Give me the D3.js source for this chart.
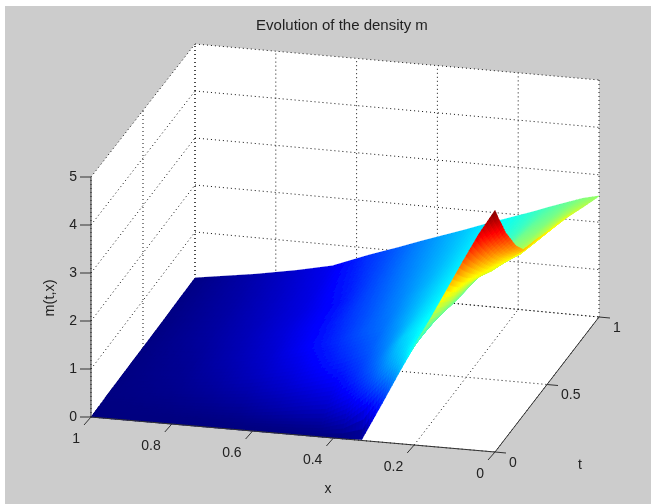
<!DOCTYPE html>
<html><head><meta charset="utf-8">
<script src="https://cdn.jsdelivr.net/npm/d3@7"></script>
<style>html,body{margin:0;padding:0;background:#fff}svg{display:block}text{font-family:"Liberation Sans",Arial,sans-serif;fill:#222}</style>
</head><body><div id="chart"></div>
<script>
const titleText = "Evolution of the density m";
const xLabel = "x", tLabel = "t", zLabel = "m(t,x)";
const xTicks = [1,0.8,0.6,0.4,0.2,0];
const tTicks = [0,0.5,1];
const zTicks = [0,1,2,3,4,5];
const xGrid = [0,.04,.08,.12,.16,.2,.24,.28,.33,.38,.44,.5,.57,.66,.75,.85,1];
const tGrid = [0,.03,.06,.1,.15,.2,.28,.4,.55,.7,.85,1];
const density = [
 [4.93,4.42,3.83,3.22,2.61,2.03,1.42,.79,.02,0,0,0,0,0,0,0,0],
 [4.70,4.25,3.7,3.12,2.55,2.03,1.55,1.05,.55,.22,.08,.05,.03,.01,0,0,0],
 [4.50,4.08,3.58,3.03,2.5,2.03,1.66,1.3,.85,.45,.2,.16,.1,.04,.02,.01,0],
 [4.22,3.88,3.43,2.93,2.45,2.03,1.72,1.45,1.02,.66,.38,.3,.2,.09,.05,.02,0],
 [3.95,3.63,3.25,2.87,2.4,2.03,1.76,1.54,1.15,.84,.52,.4,.28,.16,.09,.04,.01],
 [3.68,3.43,3.08,2.8,2.35,2.03,1.8,1.6,1.22,.93,.66,.52,.37,.22,.13,.06,.01],
 [3.38,3.18,2.9,2.72,2.3,2.02,1.82,1.62,1.3,1.05,.84,.66,.47,.31,.18,.08,.01],
 [3.28,2.95,2.75,2.62,2.25,2.02,1.83,1.65,1.4,1.16,1.0,.8,.6,.38,.24,.11,.01],
 [3.10,2.8,2.62,2.5,2.2,2.01,1.84,1.68,1.47,1.26,1.06,.88,.65,.44,.28,.15,.01],
 [2.94,2.72,2.52,2.4,2.17,2.0,1.85,1.7,1.5,1.33,1.13,.94,.68,.46,.31,.17,.01],
 [2.74,2.6,2.43,2.31,2.13,1.99,1.85,1.72,1.54,1.38,1.2,1.0,.77,.5,.34,.19,.02],
 [2.55,2.47,2.35,2.23,2.1,1.98,1.86,1.74,1.58,1.43,1.25,1.06,.85,.55,.38,.22,.02]
];

const W = 651, H = 504;
const root = d3.select("#chart").append("svg").attr("width",W).attr("height",H);
root.append("defs").append("filter").attr("id","soft")
  .attr("x",0).attr("y",0).attr("width","100%").attr("height","100%")
  .append("feGaussianBlur").attr("stdDeviation",0.5);
const svg = root.append("g").attr("filter","url(#soft)");
svg.append("rect").attr("width",W).attr("height",H).attr("fill","#fff");
svg.append("rect").attr("x",5).attr("y",6).attr("width",W-5).attr("height",H-6).attr("fill","#cccccc");

// Screen box of the 3D axes
const box = {
  x1t0z0:[91,417], x1t0z5:[91,177], x0t0z0:[495,452], x0t0z5:[495,207],
  x1t1z0:[195,279], x1t1z5:[195,44], x0t1z0:[599,317], x0t1z5:[599,80]
};
const uS = d3.scaleLinear().domain([1,0]).range([0,1]);
const vS = d3.scaleLinear().domain([0,1]).range([0,1]);
const wS = d3.scaleLinear().domain([0,5]).range([0,1]);
const mix = (a,b,k)=>[a[0]+(b[0]-a[0])*k,a[1]+(b[1]-a[1])*k];
function project(x,t,z){
  const u=uS(x),v=vS(t),w=wS(z);
  const low = mix(mix(box.x1t0z0,box.x0t0z0,u),mix(box.x1t1z0,box.x0t1z0,u),v);
  const top = mix(mix(box.x1t0z5,box.x0t0z5,u),mix(box.x1t1z5,box.x0t1z5,u),v);
  return mix(low,top,w);
}
const line = d3.line();

// walls
const wallPolys = [
  [[1,0,0],[1,0,5],[1,1,5],[1,1,0]],
  [[1,1,0],[1,1,5],[0,1,5],[0,1,0]],
  [[1,0,0],[0,0,0],[0,1,0],[1,1,0]]
];
svg.append("g").selectAll("path").data(wallPolys).join("path")
  .attr("d",d=>line(d.map(p=>project(...p)))+"Z").attr("fill","#fff");

// grid
const gridSegs = [];
zTicks.forEach(z=>{ gridSegs.push([[1,0,z],[1,1,z]],[[1,1,z],[0,1,z]]); });
xTicks.forEach(x=>{ gridSegs.push([[x,0,0],[x,1,0]],[[x,1,0],[x,1,5]]); });
tTicks.forEach(t=>{ gridSegs.push([[1,t,0],[0,t,0]],[[1,t,0],[1,t,5]]); });
svg.append("g").selectAll("path").data(gridSegs).join("path")
  .attr("d",d=>line(d.map(p=>project(...p))))
  .attr("fill","none").attr("stroke","#111").attr("stroke-width",1).attr("stroke-dasharray","1 3");

// jet colormap
const jet = d3.scaleLinear().domain([0,.125,.375,.625,.875,1])
  .range(["#000080","#0000ff","#00ffff","#ffff00","#ff0000","#800000"]);
const zMax = d3.max(density.flat());
const colorOf = z=>jet(z/zMax);

// shaded surface (interpolated shading between the grid values), drawn far to near
const cells = [];
for(let i=tGrid.length-2;i>=0;i--){
  const subT = Math.max(3,Math.ceil((tGrid[i+1]-tGrid[i])*135/3));
  for(let j=xGrid.length-2;j>=0;j--){
    const subX = Math.max(3,Math.ceil((xGrid[j+1]-xGrid[j])*404/4));
    for(let a=subT-1;a>=0;a--){
      for(let b=subX-1;b>=0;b--){
        const corner=(aa,bb)=>{
          const p=aa/subT,q=bb/subX;
          const z=(density[i][j]*(1-p)+density[i+1][j]*p)*(1-q)+(density[i][j+1]*(1-p)+density[i+1][j+1]*p)*q;
          const t=tGrid[i]+(tGrid[i+1]-tGrid[i])*p, x=xGrid[j]+(xGrid[j+1]-xGrid[j])*q;
          return {x,t,z};
        };
        const cs=[corner(a,b),corner(a+1,b),corner(a+1,b+1),corner(a,b+1)];
        cells.push({pts:cs.map(c=>project(c.x,c.t,c.z)),z:d3.mean(cs,c=>c.z)});
      }
    }
  }
}
svg.append("g").attr("shape-rendering","crispEdges").selectAll("path").data(cells).join("path")
  .attr("d",d=>line(d.pts)+"Z")
  .attr("fill",d=>colorOf(d.z)).attr("stroke",d=>colorOf(d.z)).attr("stroke-width",.8).attr("stroke-linejoin","round");

// axes lines and ticks
const axisSegs = [[project(1,0,0),project(1,0,5)],[project(1,0,0),project(0,0,0)],[project(0,0,0),project(0,1,0)]];
zTicks.forEach(z=>{const p=project(1,0,z);axisSegs.push([p,[p[0]-11,p[1]]]);});
xTicks.forEach(x=>{const p=project(x,0,0);axisSegs.push([p,[p[0]-7,p[1]+8]]);});
tTicks.forEach(t=>{const p=project(0,t,0);axisSegs.push([p,[p[0]+11,p[1]+1]]);});
svg.append("g").selectAll("path").data(axisSegs).join("path")
  .attr("d",d=>line(d)).attr("fill","none").attr("stroke","#333").attr("stroke-width",1);

// labels
const fs = 14;
const label=(txt,x,y,size,anchor,rot)=>{
  const el=svg.append("text").text(txt).attr("x",x).attr("y",y).attr("font-size",size).attr("text-anchor",anchor||"middle").attr("dominant-baseline","middle");
  if(rot) el.attr("transform",`rotate(${rot},${x},${y})`);
  return el;
};
zTicks.forEach(z=>{const p=project(1,0,z);label(z,p[0]-14,p[1],fs,"end");});
xTicks.forEach(x=>{const p=project(x,0,0);label(x,p[0]-11,p[1]+22,fs,"end");});
tTicks.forEach(t=>{const p=project(0,t,0);label(t,p[0]+14,p[1]+11,fs,"start");});
label(titleText,342,26,15);
label(xLabel,328,489,14);
label(tLabel,580,465,14);
label(zLabel,50,298,14.5,"middle",-90);
</script></body></html>
